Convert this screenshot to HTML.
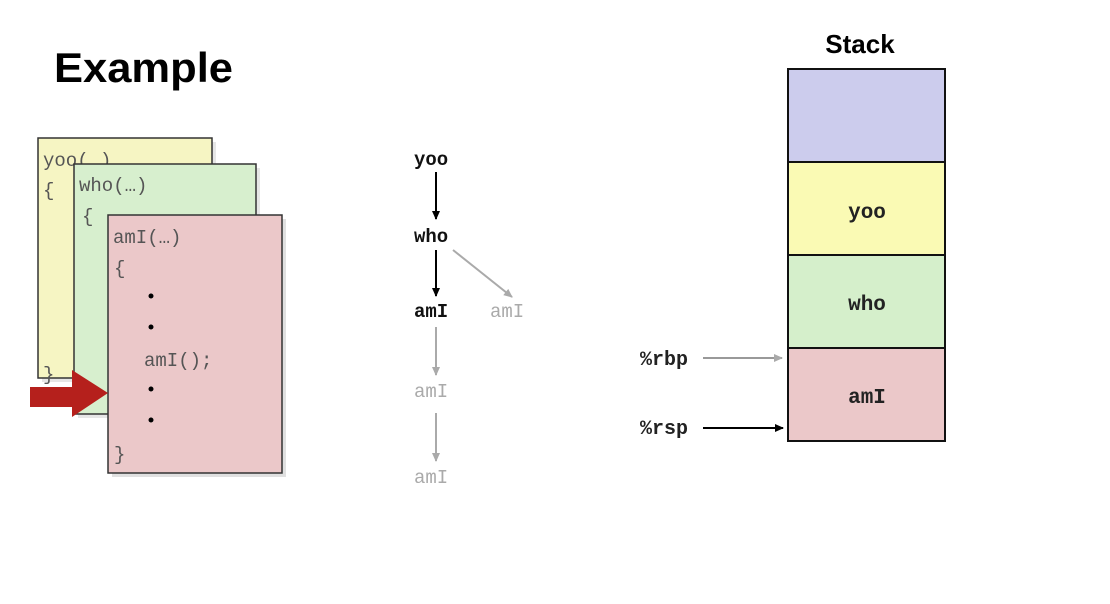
<!DOCTYPE html>
<html><head><meta charset="utf-8"><style>
html,body{margin:0;padding:0;background:#fff;}
svg{display:block;}
.m{font-family:"Liberation Mono",monospace;}
</style></head><body>
<svg width="1110" height="604" viewBox="0 0 1110 604" xmlns="http://www.w3.org/2000/svg">
<defs>
<marker id="ab" markerWidth="10" markerHeight="10" refX="8" refY="5" orient="auto" markerUnits="userSpaceOnUse"><path d="M0,1 L9,5 L0,9 z" fill="#000"/></marker>
<marker id="ag" markerWidth="10" markerHeight="10" refX="8" refY="5" orient="auto" markerUnits="userSpaceOnUse"><path d="M0,1 L9,5 L0,9 z" fill="#aaa"/></marker>
</defs>
<text x="54" y="82" font-family="Liberation Sans,sans-serif" font-weight="bold" font-size="42" textLength="179" lengthAdjust="spacingAndGlyphs">Example</text>

<!-- cards -->
<rect x="42" y="142" width="174" height="240" fill="#e6e6e6"/>
<rect x="38" y="138" width="174" height="240" fill="#f6f5c3" stroke="#333" stroke-width="1.5"/>
<text class="m" x="43" y="166" font-size="19" fill="#555">yoo(…)</text>
<text class="m" x="43" y="196" font-size="19" fill="#555">{</text>
<text class="m" x="43" y="380" font-size="19" fill="#555">}</text>
<rect x="78" y="168" width="182" height="250" fill="#e6e6e6"/>
<rect x="74" y="164" width="182" height="250" fill="#d7efce" stroke="#333" stroke-width="1.5"/>
<text class="m" x="79" y="191" font-size="19" fill="#555">who(…)</text>
<text class="m" x="82" y="222" font-size="19" fill="#555">{</text>
<rect x="112" y="219" width="174" height="258" fill="#e0e0e0"/>
<rect x="108" y="215" width="174" height="258" fill="#ebc8c9" stroke="#333" stroke-width="1.5"/>
<text class="m" x="113" y="243" font-size="19" fill="#555">amI(…)</text>
<text class="m" x="114" y="274" font-size="19" fill="#555">{</text>
<circle cx="151" cy="296" r="2.5" fill="#000"/>
<circle cx="151" cy="327" r="2.5" fill="#000"/>
<text class="m" x="144" y="366" font-size="19" fill="#555">amI();</text>
<circle cx="151" cy="389" r="2.5" fill="#000"/>
<circle cx="151" cy="420" r="2.5" fill="#000"/>
<text class="m" x="114" y="460" font-size="19" fill="#555">}</text>
<!-- red arrow -->
<path d="M30,387 L72,387 L72,370 L108,393 L72,417 L72,407 L30,407 z" fill="#b5201c"/>

<!-- call tree -->
<g class="m" font-weight="bold" font-size="19">
<text x="414" y="165" fill="#111">yoo</text>
<text x="414" y="242" fill="#111">who</text>
<text x="414" y="317" fill="#111">amI</text>
<text x="490" y="317" fill="#aaa" font-weight="normal">amI</text>
<text x="414" y="397" fill="#aaa" font-weight="normal">amI</text>
<text x="414" y="483" fill="#aaa" font-weight="normal">amI</text>
</g>
<line x1="436" y1="172" x2="436" y2="219" stroke="#000" stroke-width="2" marker-end="url(#ab)"/>
<line x1="436" y1="250" x2="436" y2="296" stroke="#000" stroke-width="2" marker-end="url(#ab)"/>
<line x1="453" y1="250" x2="512" y2="297" stroke="#aaa" stroke-width="2" marker-end="url(#ag)"/>
<line x1="436" y1="327" x2="436" y2="375" stroke="#aaa" stroke-width="2" marker-end="url(#ag)"/>
<line x1="436" y1="413" x2="436" y2="461" stroke="#aaa" stroke-width="2" marker-end="url(#ag)"/>

<!-- stack -->
<text x="860" y="53" text-anchor="middle" font-family="Liberation Sans,sans-serif" font-weight="bold" font-size="26">Stack</text>
<rect x="788" y="69" width="157" height="93" fill="#cccced" stroke="#111" stroke-width="2"/>
<rect x="788" y="162" width="157" height="93" fill="#fafab4" stroke="#111" stroke-width="2"/>
<rect x="788" y="255" width="157" height="93" fill="#d5efcb" stroke="#111" stroke-width="2"/>
<rect x="788" y="348" width="157" height="93" fill="#ebc8c9" stroke="#111" stroke-width="2"/>
<g class="m" font-weight="bold" font-size="21" fill="#222" text-anchor="middle">
<text x="867" y="218">yoo</text>
<text x="867" y="310">who</text>
<text x="867" y="403">amI</text>
</g>
<g class="m" font-weight="bold" font-size="20" fill="#222">
<text x="640" y="365">%rbp</text>
<text x="640" y="434">%rsp</text>
</g>
<line x1="703" y1="358" x2="782" y2="358" stroke="#999" stroke-width="2" marker-end="url(#ag)"/>
<line x1="703" y1="428" x2="783" y2="428" stroke="#000" stroke-width="2" marker-end="url(#ab)"/>
</svg>
</body></html>
